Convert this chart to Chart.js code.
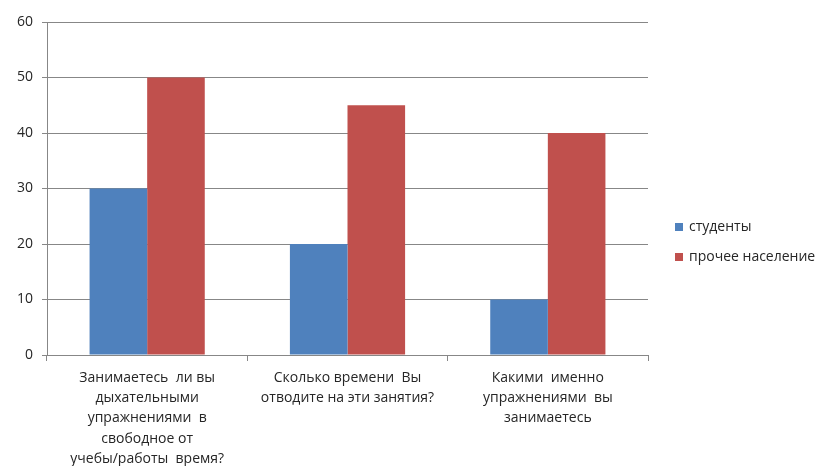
<!DOCTYPE html>
<html>
<head>
<meta charset="utf-8">
<script src="https://cdn.jsdelivr.net/npm/chart.js@4/dist/chart.umd.min.js"></script>
<style>
  html, body { margin: 0; padding: 0; background: #fff; }
  #wrap { position: relative; width: 818px; height: 466px; }
  #legend { position: absolute; left: 675px; top: 217px; font: 14px "Open Sans", sans-serif; color: #262626; }
  #legend div { height: 30px; line-height: 18px; white-space: nowrap; }
  #legend span.box { display: inline-block; width: 8px; height: 8px; margin-right: 6px; vertical-align: 0px; }
</style>
</head>
<body>
<div id="wrap">
  <canvas id="c" width="818" height="466"></canvas>
  <div id="legend"></div>
</div>
<script>
const categories = [
  ["Занимаетесь  ли вы", "дыхательными", "упражнениями  в", "свободное от", "учебы/работы  время?"],
  ["Сколько времени  Вы", "отводите на эти занятия?"],
  ["Какими  именно", "упражнениями  вы", "занимаетесь"]
];
const seriesNames = ["студенты", "прочее  население"];
const students = [30, 20, 10];
const others = [50, 45, 40];
const yTicks = [0, 10, 20, 30, 40, 50, 60];
const colors = ["#4F81BD", "#C0504D"];

const gridGray = "#878787";
const textColor = "#262626";

const chart = new Chart(document.getElementById("c"), {
  type: "bar",
  data: {
    labels: categories,
    datasets: [
      { label: seriesNames[0], data: students, backgroundColor: colors[0] },
      { label: seriesNames[1], data: others, backgroundColor: colors[1] }
    ]
  },
  options: {
    responsive: false,
    animation: false,
    events: [],
    layout: { padding: { left: 0, right: 170, top: 22, bottom: 0 } },
    datasets: { bar: { categoryPercentage: 0.575, barPercentage: 1.0, borderWidth: 0 } },
    plugins: { legend: { display: false }, tooltip: { enabled: false } },
    scales: {
      x: {
        offset: true,
        grid: { offset: true, drawOnChartArea: false, drawTicks: true, tickLength: 6, color: gridGray },
        border: { display: true, color: gridGray },
        ticks: {
          padding: 7,
          maxRotation: 0,
          autoSkip: false,
          color: textColor,
          font: { family: "Open Sans", size: 14, lineHeight: 1.44 }
        },
        afterFit: s => { s.height = 111; }
      },
      y: {
        min: yTicks[0],
        max: yTicks[yTicks.length - 1],
        afterBuildTicks: s => { s.ticks = yTicks.map(v => ({ value: v })); },
        grid: { color: gridGray, tickLength: 5, drawTicks: true },
        border: { display: true, color: gridGray },
        ticks: {
          padding: 9,
          color: textColor,
          font: { family: "Open Sans", size: 14 }
        },
        afterFit: s => { s.width = 47; }
      }
    }
  }
});

// legend built from the datasets
const legend = document.getElementById("legend");
chart.data.datasets.forEach(ds => {
  const row = document.createElement("div");
  const box = document.createElement("span");
  box.className = "box";
  box.style.background = ds.backgroundColor;
  row.appendChild(box);
  row.appendChild(document.createTextNode(ds.label));
  legend.appendChild(row);
});
</script>
</body>
</html>
